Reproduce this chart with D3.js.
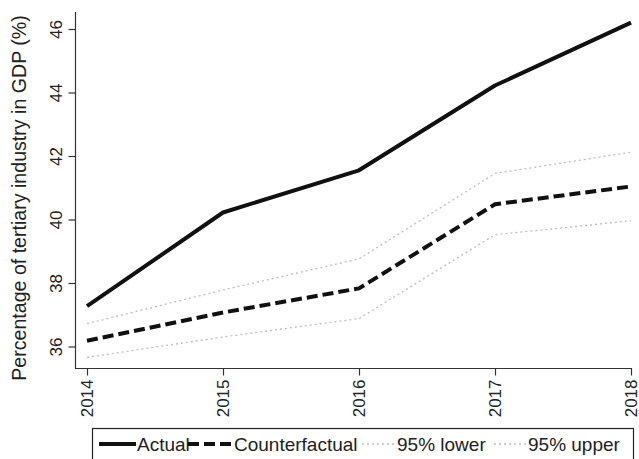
<!DOCTYPE html>
<html><head><meta charset="utf-8">
<script src="https://cdn.jsdelivr.net/npm/d3@7"></script>
<style>body{margin:0;background:#fff}svg{display:block}text{font-family:"Liberation Sans",Arial,sans-serif;fill:#222}</style>
</head><body>
<script>
const years = [2014, 2015, 2016, 2017, 2018];
const actual = [37.27, 40.22, 41.55, 44.22, 46.2];
const counterfactual = [36.18, 37.07, 37.83, 40.48, 41.04];
const lower95 = [35.66, 36.3, 36.88, 39.52, 39.96];
const upper95 = [36.72, 37.78, 38.76, 41.45, 42.12];
const yTicks = [36, 38, 40, 42, 44, 46];
const legendLabels = ["Actual", "Counterfactual", "95% lower", "95% upper"];

const W = 639, H = 459;
const svg = d3.select("body").append("svg").attr("width", W).attr("height", H);

const x = d3.scaleLinear().domain([2014, 2018]).range([87, 631]);
const y = d3.scaleLinear().domain([36, 46]).range([346.5, 29]);

const axisColor = "#333";
// axis lines
svg.append("line").attr("x1", 75.5).attr("x2", 75.5).attr("y1", 12).attr("y2", 368.5)
  .attr("stroke", axisColor).attr("stroke-width", 1.2);
svg.append("line").attr("x1", 75).attr("x2", 632).attr("y1", 368.5).attr("y2", 368.5)
  .attr("stroke", axisColor).attr("stroke-width", 1.2);

// y ticks
const yAxis = d3.axisLeft(y).tickValues(yTicks).tickSize(7).tickFormat(d3.format("d"));
const gy = svg.append("g").attr("transform", "translate(75.5,0)").call(yAxis);
gy.select(".domain").remove();
gy.selectAll(".tick line").attr("stroke", axisColor).attr("stroke-width", 1.2);
gy.selectAll(".tick text").attr("x", null).attr("dy", null)
  .attr("text-anchor", "middle").attr("font-size", 17).style("fill", "#222")
  .attr("transform", "translate(-14,0) rotate(-90)");

// x ticks
const xAxis = d3.axisBottom(x).tickValues(years).tickSize(7).tickFormat(d3.format("d"));
const gx = svg.append("g").attr("transform", "translate(0,368.5)").call(xAxis);
gx.select(".domain").remove();
gx.selectAll(".tick line").attr("stroke", axisColor).attr("stroke-width", 1.2);
gx.selectAll(".tick text").attr("y", null).attr("dy", "0.35em")
  .attr("text-anchor", "end").attr("font-size", 17).style("fill", "#222")
  .attr("transform", "translate(0,11) rotate(-90)");

// y title
svg.append("text").attr("transform", "translate(26,198) rotate(-90)")
  .attr("text-anchor", "middle").attr("font-size", 19.6)
  .text("Percentage of tertiary industry in GDP (%)");

const line = d3.line().x((d, i) => x(years[i])).y(d => y(d));
const styles = [
  {data: actual, stroke: "#111", w: 4, dash: null},
  {data: counterfactual, stroke: "#111", w: 4, dash: "11,5"},
  {data: lower95, stroke: "#bdbdbd", w: 1.3, dash: "2,3"},
  {data: upper95, stroke: "#bdbdbd", w: 1.3, dash: "2,3"}
];
[styles[2], styles[3], styles[1], styles[0]].forEach(s => {
  svg.append("path").datum(s.data).attr("d", line).attr("fill", "none")
    .attr("stroke", s.stroke).attr("stroke-width", s.w)
    .attr("stroke-dasharray", s.dash).attr("stroke-linejoin", "round");
});

// legend
const lg = svg.append("g");
lg.append("rect").attr("x", 92.5).attr("y", 428.5).attr("width", 541).attr("height", 40)
  .attr("fill", "#fff").attr("stroke", "#222").attr("stroke-width", 1.2);
const items = [
  {x0: 99, x1: 136, tx: 137},
  {x0: 188, x1: 233, tx: 234},
  {x0: 362, x1: 395, tx: 397},
  {x0: 494, x1: 526, tx: 528}
];
items.forEach((it, i) => {
  const s = styles[i];
  lg.append("line").attr("x1", it.x0).attr("x2", it.x1).attr("y1", 444).attr("y2", 444)
    .attr("stroke", s.stroke).attr("stroke-width", s.w).attr("stroke-dasharray", s.dash);
  lg.append("text").attr("x", it.tx).attr("y", 451).attr("font-size", 19).text(legendLabels[i]);
});
</script>
</body></html>
